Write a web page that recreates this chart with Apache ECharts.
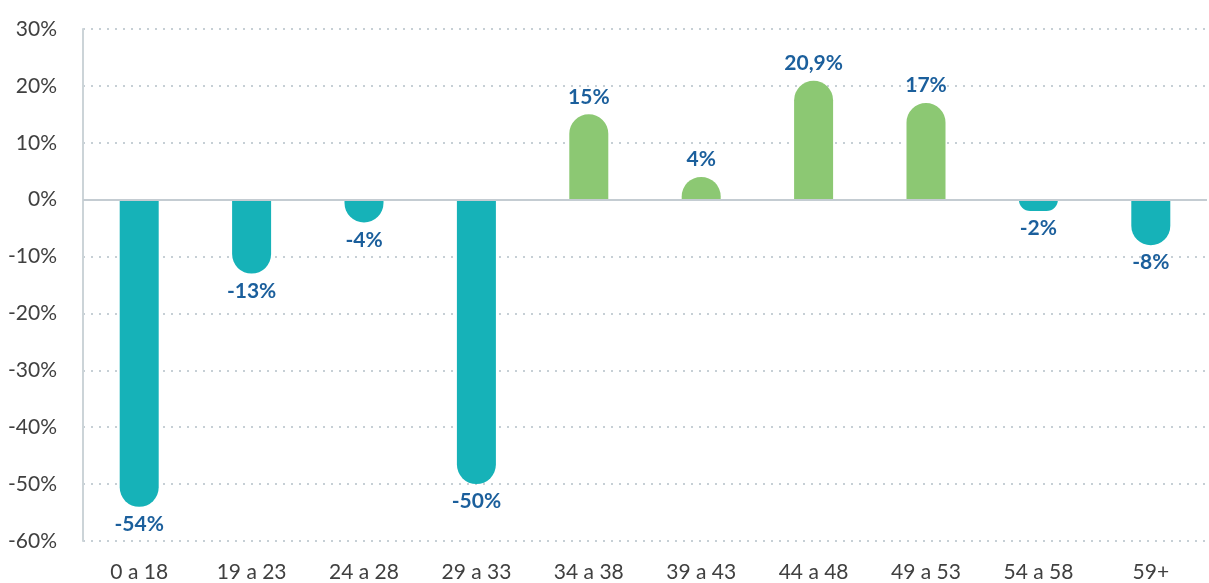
<!DOCTYPE html>
<html lang="pt">
<head>
<meta charset="utf-8">
<title>Variação por faixa etária</title>
<script src="https://cdn.jsdelivr.net/npm/echarts@6/dist/echarts.min.js"></script>
<style>
  html, body { margin: 0; padding: 0; background: #fff; }
  #main { width: 1209px; height: 583px; }
</style>
</head>
<body>
<div id="main"></div>
<script type="text/javascript">
    // faixas etárias
    const categories = ['0 a 18', '19 a 23', '24 a 28', '29 a 33', '34 a 38', '39 a 43', '44 a 48', '49 a 53', '54 a 58', '59+'];
    // variação em %
    const values = [-54, -13, -4, -50, 15, 4, 20.9, 17, -2, -8];

    const negColor = '#16b2b8';
    const posColor = '#8cc873';

    let chart = echarts.init(document.getElementById('main'));

    let seriesData = values.map((v) => {
        return {
            value: v,
            itemStyle: {
                color: v < 0 ? negColor : posColor,
                borderRadius: v < 0 ? [0, 0, 20, 20] : [20, 20, 0, 0]
            },
            label: { position: v < 0 ? 'bottom' : 'top' }
        };
    });

    let option = {
        animation: false,
        grid: { left: 83, right: 2, top: 29, bottom: 41 },
        xAxis: {
            type: 'category',
            data: categories,
            axisLine: { show: false, onZero: false },
            axisTick: { show: false },
            axisLabel: { fontFamily: 'Lato', fontSize: 21, color: '#404040', margin: 21 }
        },
        yAxis: {
            type: 'value',
            min: -60,
            max: 30,
            interval: 10,
            axisLine: { show: true, lineStyle: { color: '#ccd4d8', width: 2 } },
            axisTick: { show: false },
            axisLabel: {
                fontFamily: 'Lato', fontSize: 21, color: '#404040', margin: 26,
                formatter: (v) => v + '%'
            },
            splitLine: { lineStyle: { color: '#b4c0c8', type: [2, 6], width: 1.5 } }
        },
        series: [
            {
                type: 'bar',
                data: seriesData,
                barWidth: 39,
                label: {
                    show: true,
                    distance: 7,
                    fontFamily: 'Lato',
                    fontWeight: 'bold',
                    fontSize: 21,
                    color: '#1b5f9c',
                    formatter: (p) => String(p.value).replace('.', ',') + '%'
                },
                markLine: {
                    silent: true,
                    symbol: 'none',
                    label: { show: false },
                    lineStyle: { color: '#c4ccd2', type: 'solid', width: 2 },
                    data: [{ yAxis: 0 }]
                }
            }
        ]
    };

    chart.setOption(option);
</script>
</body>
</html>
